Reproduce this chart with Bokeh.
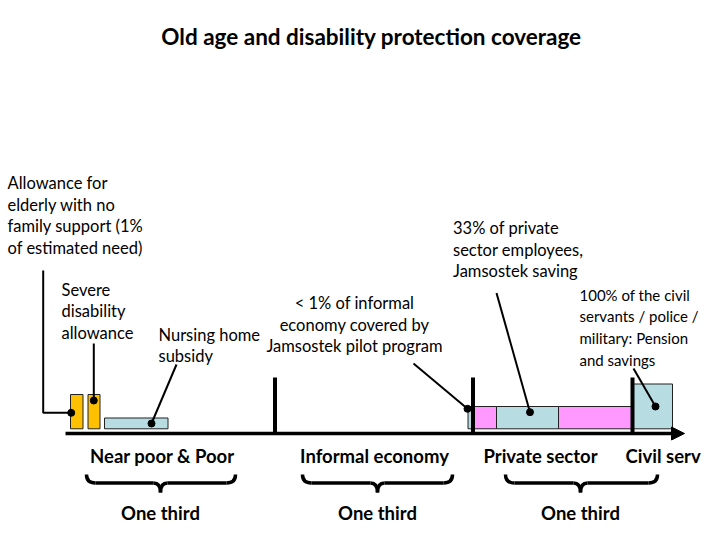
from bokeh.plotting import figure
from bokeh.models import Range1d, Arrow, NormalHead
from bokeh.core.properties import value
from bokeh.embed import file_html
from bokeh.resources import INLINE

# ---------------- data (schematic units along the population axis) ----------------
title_text = "Old age and disability protection coverage"

# population groups along the axis
groups = ["Near poor & Poor", "Informal economy", "Private sector", "Civil serv"]
group_label_x = [162, 374, 540, 625]
divider_x = [274.5, 472.5, 632]
third_label = "One third"
brace_left = [86, 302, 505]
brace_right = [235, 452, 657]
brace_tip = [160, 377, 580]

# coverage boxes: left, right, top of coverage
cov_left = [70, 87.5, 104, 467.5, 472, 496, 558, 633]
cov_right = [82.5, 99.5, 167.5, 472, 496, 558, 631, 672]
cov_top = [394, 394, 417.5, 406, 406, 406, 406, 383.5]
cov_kind = ["allow", "allow", "subsidy", "saving", "other", "saving", "other", "saving"]

# annotations: lines of text
ann_allow = ["Allowance for", "elderly with no", "family support (1%", "of estimated need)"]
ann_severe = ["Severe", "disability", "allowance"]
ann_nursing = ["Nursing home", "subsidy"]
ann_informal = ["< 1% of informal", "economy covered by", "Jamsostek pilot program"]
ann_private = ["33% of private", "sector employees,", "Jamsostek saving"]
ann_civil = ["100% of the civil", "servants / police /", "military: Pension", "and savings"]

# ---------------- styling ----------------
FONT = "Lato"
kind_color = {"allow": "#FFC000", "subsidy": "#B7DDE3", "saving": "#B7DDE3", "other": "#FF99FF"}
BASE_Y = 428.3
AXIS_Y = 433

p = figure(width=704, height=524, output_backend="svg", toolbar_location=None, title=None,
           x_range=Range1d(0, 704), y_range=Range1d(524, 0), min_border=0)
p.axis.visible = False
p.grid.visible = False
p.outline_line_color = None
p.background_fill_color = "white"
p.border_fill_color = "white"

# coverage boxes
p.quad(left=cov_left, right=cov_right, top=cov_top, bottom=[BASE_Y] * len(cov_left),
       fill_color=[kind_color[k] for k in cov_kind], line_color="#222222", line_width=1)

# axis with arrow
p.add_layout(Arrow(end=NormalHead(size=13, fill_color="black", line_color="black"),
                   x_start=65, y_start=AXIS_Y, x_end=684, y_end=AXIS_Y,
                   line_width=3.5, line_color="black"))

# dividers
p.segment(x0=divider_x, y0=[377] * 3, x1=divider_x, y1=[AXIS_Y] * 3,
          line_width=4, line_color="black")

# leader lines
lx = [[42.7, 42.7, 70.7], [93.3, 93.3], [176, 151], [413, 467], [496, 529.5], [633, 655]]
ly = [[270, 412.3, 412.3], [343, 400], [364, 423], [363, 408.3], [292.5, 411.7], [368, 406]]
p.multi_line(xs=lx, ys=ly, line_color="black", line_width=2)
p.scatter(x=[70.7, 93.3, 151, 467, 529.5, 655], y=[412.3, 400, 423, 408.3, 411.7, 406],
          size=7, color="black")

# braces
for x0, x1, xc in zip(brace_left, brace_right, brace_tip):
    yt, ym, yb, r = 474, 482.5, 492, 9
    p.quadratic(x0=[x0, xc - 7, x1, xc + 7], y0=[yt, ym, yt, ym],
                x1=[x0 + r, xc, x1 - r, xc], y1=[ym, yb, ym, yb],
                cx=[x0, xc, x1, xc], cy=[ym, ym, ym, ym],
                line_color="black", line_width=3.5)
    p.segment(x0=[x0 + r, xc + 7], y0=[ym, ym], x1=[xc - 7, x1 - r], y1=[ym, ym],
              line_color="black", line_width=3.5)

# title
p.text(x=[371], y=[35.7], text=[title_text], text_font=value(FONT), text_font_style="bold",
       text_font_size="22.5px", text_align="center", text_baseline="middle", text_color="black")

# group labels
GS = "18.5px"
p.text(x=group_label_x[:3], y=[455.5] * 3, text=groups[:3], text_font=value(FONT),
       text_font_style="bold", text_font_size=GS, text_align="center",
       text_baseline="middle", text_color="black")
p.text(x=group_label_x[3:], y=[455.5], text=groups[3:], text_font=value(FONT),
       text_font_style="bold", text_font_size=GS, text_align="left",
       text_baseline="middle", text_color="black")
p.text(x=brace_tip, y=[512.2] * 3, text=[third_label] * 3, text_font=value(FONT),
       text_font_style="bold", text_font_size=GS, text_align="center",
       text_baseline="middle", text_color="black")


def block(lines, x, y0, align="left", step=21.67, size="16.5px"):
    p.text(x=[x] * len(lines), y=[y0 + i * step for i in range(len(lines))], text=lines,
           text_font=value(FONT), text_font_size=size, text_align=align,
           text_baseline="middle", text_color="black")


block(ann_allow, 7, 182.5)
block(ann_severe, 61, 289.2)
block(ann_nursing, 158, 334.2)
block(ann_informal, 354, 302.5, align="center")
block(ann_private, 452.5, 227.5)
block(ann_civil, 579, 294.2, size="15px")

open("out.html", "w").write(file_html(p, INLINE))
